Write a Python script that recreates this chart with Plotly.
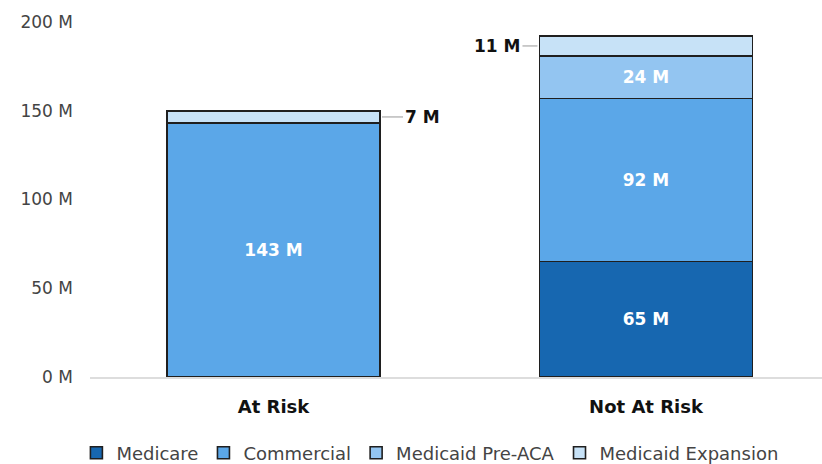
import plotly.graph_objects as go

categories = ["At Risk", "Not At Risk"]
series_names = ["Medicare", "Commercial", "Medicaid Pre-ACA", "Medicaid Expansion"]
medicare = [0, 65]
commercial = [143, 92]
medicaid_pre_aca = [0, 24]
medicaid_expansion = [7, 11]
tick_vals = [0, 50, 100, 150, 200]
tick_text = ["0 M", "50 M", "100 M", "150 M", "200 M"]

colors = ["#1767B0", "#5BA7E8", "#93C5F1", "#C7E2F7"]
series_values = [medicare, commercial, medicaid_pre_aca, medicaid_expansion]

FONT = "DejaVu Sans"
BAR_W = 0.572

fig = go.Figure()
for name, vals, col in zip(series_names, series_values, colors):
    texts = [f"{v} M" if v >= 20 else "" for v in vals]
    fig.add_trace(go.Bar(
        x=categories, y=vals, name=name,
        marker=dict(color=col, line=dict(color="#1f1f1f", width=1.6)),
        width=BAR_W,
        text=texts, textposition="inside", insidetextanchor="middle",
        textfont=dict(family=FONT, size=17, color="white", weight="bold"),
        hoverinfo="skip",
    ))

base0 = commercial[0] + medicare[0] + medicaid_pre_aca[0]
fig.add_annotation(
    x=0 + BAR_W / 2, y=base0 + medicaid_expansion[0] / 2, xref="x", yref="y",
    text=f"<b>{medicaid_expansion[0]} M</b>", showarrow=True, arrowhead=0,
    arrowwidth=1, arrowcolor="#999", ax=42, ay=0, standoff=2,
    font=dict(family=FONT, size=17, color="#111"),
)
base1 = commercial[1] + medicare[1] + medicaid_pre_aca[1]
fig.add_annotation(
    x=1 - BAR_W / 2, y=base1 + medicaid_expansion[1] / 2, xref="x", yref="y",
    text=f"<b>{medicaid_expansion[1]} M</b>", showarrow=True, arrowhead=0,
    arrowwidth=1, arrowcolor="#999", ax=-42, ay=0, standoff=2,
    font=dict(family=FONT, size=17, color="#111"),
)

fig.update_layout(
    barmode="stack",
    width=822, height=464,
    margin=dict(l=90, r=0, t=22, b=87, autoexpand=False),
    plot_bgcolor="white", paper_bgcolor="white",
    font=dict(family=FONT, color="#444"),
    xaxis=dict(
        range=[-0.4926, 1.4725], showgrid=False, showline=True,
        linecolor="#dddddd", linewidth=2,
        tickfont=dict(family=FONT, size=18, color="#111", weight="bold"),
        ticks="", ticklabelstandoff=12,
    ),
    yaxis=dict(
        range=[0, 200], tickvals=tick_vals, ticktext=tick_text,
        showgrid=False, zeroline=False, showline=False,
        tickfont=dict(family=FONT, size=17, color="#444"),
        ticks="", ticklabelstandoff=16,
    ),
    legend=dict(
        orientation="h", xref="container", x=0.523, xanchor="center",
        yref="container", y=1 - 453 / 464, yanchor="middle",
        font=dict(family=FONT, size=18, color="#444"),
        traceorder="normal", itemwidth=30,
    ),
    showlegend=True,
)

fig.write_html("out.html")
